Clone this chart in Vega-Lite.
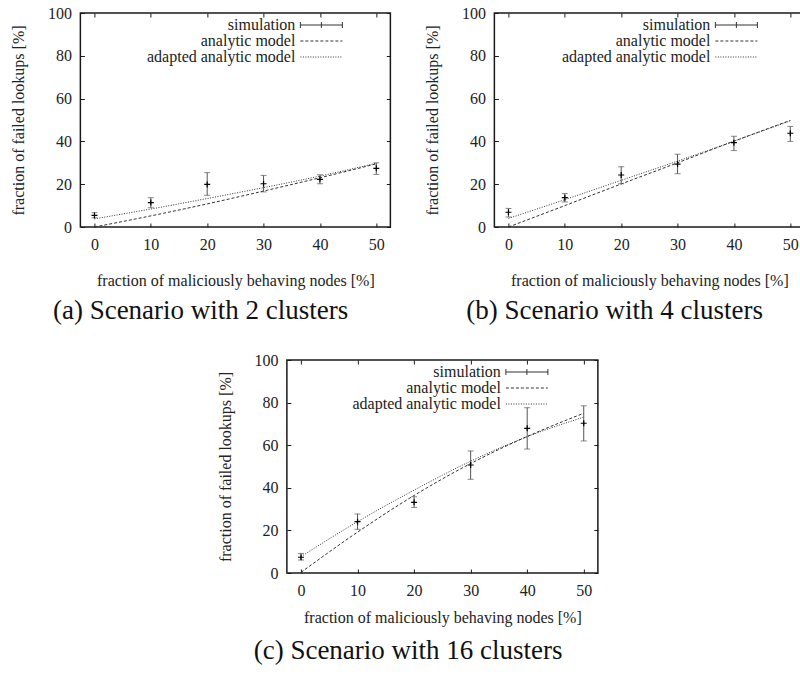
{
  "$schema": "https://vega.github.io/schema/vega-lite/v6.json",
  "padding": {"left": 9, "top": 4, "right": 5, "bottom": 5},
  "background": "white",
  "datasets": {
    "sim": [
      {"panel": "a", "x": 0, "y": 5.4, "lo": 4.3, "hi": 6.7},
      {"panel": "a", "x": 10, "y": 11.4, "lo": 9.0, "hi": 13.7},
      {"panel": "a", "x": 20, "y": 19.9, "lo": 14.8, "hi": 25.4},
      {"panel": "a", "x": 30, "y": 20.2, "lo": 16.4, "hi": 24.1},
      {"panel": "a", "x": 40, "y": 22.3, "lo": 20.2, "hi": 24.4},
      {"panel": "a", "x": 50, "y": 27.4, "lo": 24.6, "hi": 30.0},
      {"panel": "b", "x": 0, "y": 6.9, "lo": 4.7, "hi": 8.7},
      {"panel": "b", "x": 10, "y": 13.7, "lo": 11.7, "hi": 15.6},
      {"panel": "b", "x": 20, "y": 24.3, "lo": 20.2, "hi": 28.2},
      {"panel": "b", "x": 30, "y": 29.4, "lo": 24.9, "hi": 34.0},
      {"panel": "b", "x": 40, "y": 39.4, "lo": 35.7, "hi": 42.4},
      {"panel": "b", "x": 50, "y": 43.8, "lo": 40.0, "hi": 47.0},
      {"panel": "c", "x": 0, "y": 7.4, "lo": 6.1, "hi": 9.2},
      {"panel": "c", "x": 10, "y": 24.1, "lo": 20.5, "hi": 27.7},
      {"panel": "c", "x": 20, "y": 33.2, "lo": 30.8, "hi": 35.8},
      {"panel": "c", "x": 30, "y": 50.7, "lo": 44.0, "hi": 57.3},
      {"panel": "c", "x": 40, "y": 67.9, "lo": 58.2, "hi": 77.6},
      {"panel": "c", "x": 50, "y": 70.3, "lo": 62.0, "hi": 78.5}
    ],
    "model": [
      {"panel": "a", "series": "analytic model", "x": 0, "y": 0},
      {"panel": "a", "series": "analytic model", "x": 10, "y": 5.2},
      {"panel": "a", "series": "analytic model", "x": 20, "y": 10.8},
      {"panel": "a", "series": "analytic model", "x": 30, "y": 16.8},
      {"panel": "a", "series": "analytic model", "x": 40, "y": 23.0},
      {"panel": "a", "series": "analytic model", "x": 50, "y": 29.5},
      {"panel": "a", "series": "adapted analytic model", "x": 0, "y": 3.8},
      {"panel": "a", "series": "adapted analytic model", "x": 10, "y": 8.4},
      {"panel": "a", "series": "adapted analytic model", "x": 20, "y": 13.3},
      {"panel": "a", "series": "adapted analytic model", "x": 30, "y": 18.4},
      {"panel": "a", "series": "adapted analytic model", "x": 40, "y": 23.8},
      {"panel": "a", "series": "adapted analytic model", "x": 50, "y": 29.8},
      {"panel": "b", "series": "analytic model", "x": 0, "y": 0},
      {"panel": "b", "series": "analytic model", "x": 10, "y": 10.0},
      {"panel": "b", "series": "analytic model", "x": 20, "y": 20.1},
      {"panel": "b", "series": "analytic model", "x": 30, "y": 30.0},
      {"panel": "b", "series": "analytic model", "x": 40, "y": 40.1},
      {"panel": "b", "series": "analytic model", "x": 50, "y": 49.8},
      {"panel": "b", "series": "adapted analytic model", "x": 0, "y": 4.0},
      {"panel": "b", "series": "adapted analytic model", "x": 10, "y": 12.8},
      {"panel": "b", "series": "adapted analytic model", "x": 20, "y": 21.8},
      {"panel": "b", "series": "adapted analytic model", "x": 30, "y": 30.8},
      {"panel": "b", "series": "adapted analytic model", "x": 40, "y": 40.1},
      {"panel": "b", "series": "adapted analytic model", "x": 50, "y": 49.6},
      {"panel": "c", "series": "analytic model", "x": 0, "y": 0.3},
      {"panel": "c", "series": "analytic model", "x": 10, "y": 19.2},
      {"panel": "c", "series": "analytic model", "x": 20, "y": 36.4},
      {"panel": "c", "series": "analytic model", "x": 30, "y": 51.4},
      {"panel": "c", "series": "analytic model", "x": 40, "y": 64.1},
      {"panel": "c", "series": "analytic model", "x": 50, "y": 75.0},
      {"panel": "c", "series": "adapted analytic model", "x": 0, "y": 7.7},
      {"panel": "c", "series": "adapted analytic model", "x": 10, "y": 24.1},
      {"panel": "c", "series": "adapted analytic model", "x": 20, "y": 38.9},
      {"panel": "c", "series": "adapted analytic model", "x": 30, "y": 52.5},
      {"panel": "c", "series": "adapted analytic model", "x": 40, "y": 64.0},
      {"panel": "c", "series": "adapted analytic model", "x": 50, "y": 73.2}
    ]
  },
  "vconcat": [
    {
      "hconcat": [
        {
          "width": 310, "height": 214,
          "title": {"text": "(a) Scenario with 2 clusters", "offset": 10},
          "resolve": {"axis": {"x": "independent", "y": "independent"}},
          "layer": [
            {
              "data": {"name": "model"},
              "transform": [{"filter": "datum.panel === 'a'"}],
              "mark": {"type": "line", "strokeWidth": 1, "color": "#333", "interpolate": "monotone"},
              "encoding": {
                "x": {"field": "x", "type": "quantitative", "scale": {"domain": [-2.5, 52.5], "nice": false, "zero": false}, "axis": {"orient": "bottom", "values": [0, 10, 20, 30, 40, 50], "title": "fraction of maliciously behaving nodes [%]", "titlePadding": 20, "labelFlush": false}},
                "y": {"field": "y", "type": "quantitative", "scale": {"domain": [0, 100], "nice": false}, "axis": {"orient": "left", "values": [0, 20, 40, 60, 80, 100], "title": "fraction of failed lookups [%]", "titlePadding": 21, "labelFlush": false}},
                "strokeDash": {"field": "series", "type": "nominal", "scale": {"domain": ["analytic model", "adapted analytic model"], "range": [[3, 2], [1, 1.5]]}, "legend": null}
              }
            },
            {
              "data": {"name": "sim"},
              "transform": [{"filter": "datum.panel === 'a'"}],
              "mark": {"type": "rule", "color": "#555", "strokeWidth": 1},
              "encoding": {
                "x": {"field": "x", "type": "quantitative", "axis": {"orient": "top", "values": [0, 10, 20, 30, 40, 50], "labels": false, "title": null}},
                "y": {"field": "lo", "type": "quantitative", "axis": {"orient": "right", "values": [0, 20, 40, 60, 80, 100], "labels": false, "title": null}},
                "y2": {"field": "hi"}
              }
            },
            {
              "data": {"name": "sim"},
              "transform": [{"filter": "datum.panel === 'a'"}, {"fold": ["lo", "hi"], "as": ["end", "v"]}],
              "mark": {"type": "tick", "orient": "horizontal", "color": "#555", "thickness": 1, "size": 6},
              "encoding": {
                "x": {"field": "x", "type": "quantitative", "axis": null},
                "y": {"field": "v", "type": "quantitative", "axis": null}
              }
            },
            {
              "data": {"name": "sim"},
              "transform": [{"filter": "datum.panel === 'a'"}],
              "mark": {"type": "point", "shape": "M-1,0H1M0,-1V1", "size": 36, "filled": false, "color": "#000", "strokeWidth": 1.2, "opacity": 1},
              "encoding": {
                "x": {"field": "x", "type": "quantitative", "axis": null},
                "y": {"field": "y", "type": "quantitative", "axis": null}
              }
            },
            {
              "data": {"name": "model"},
              "transform": [{"filter": "datum.panel === 'a'"}],
              "mark": {"type": "point", "opacity": 0, "filled": false},
              "encoding": {
                "x": {"field": "x", "type": "quantitative", "axis": null},
                "y": {"field": "y", "type": "quantitative", "axis": null},
                "shape": {"field": "series", "type": "nominal",
                  "scale": {"domain": ["simulation", "analytic model", "adapted analytic model"], "range": ["M-4.2,0H4.2M-4.2,-0.6V0.6M4.2,-0.6V0.6M0,-0.6V0.6", "M-4.2,0H-3.6M-3.2,0H-2.6M-2.2,0H-1.6M-1.2,0H-0.6M-0.2,0H0.4M0.8,0H1.4M1.8,0H2.4M2.8,0H3.4M3.8,0H4.2", "M-4.2,0H-4M-3.7,0H-3.5M-3.2,0H-3M-2.7,0H-2.5M-2.2,0H-2M-1.7,0H-1.5M-1.2,0H-1M-0.7,0H-0.5M-0.2,0H0M0.3,0H0.5M0.8,0H1M1.3,0H1.5M1.8,0H2M2.3,0H2.5M2.8,0H3M3.3,0H3.5M3.8,0H4"]},
                  "legend": {"orient": "none", "legendX": 233, "legendY": 4}
                }
              }
            }
          ]
        },
        {
          "width": 310, "height": 214,
          "title": {"text": "(b) Scenario with 4 clusters", "offset": 10},
          "resolve": {"axis": {"x": "independent", "y": "independent"}},
          "layer": [
            {
              "data": {"name": "model"},
              "transform": [{"filter": "datum.panel === 'b'"}],
              "mark": {"type": "line", "strokeWidth": 1, "color": "#333", "interpolate": "monotone"},
              "encoding": {
                "x": {"field": "x", "type": "quantitative", "scale": {"domain": [-2.5, 52.5], "nice": false, "zero": false}, "axis": {"orient": "bottom", "values": [0, 10, 20, 30, 40, 50], "title": "fraction of maliciously behaving nodes [%]", "titlePadding": 20, "labelFlush": false}},
                "y": {"field": "y", "type": "quantitative", "scale": {"domain": [0, 100], "nice": false}, "axis": {"orient": "left", "values": [0, 20, 40, 60, 80, 100], "title": "fraction of failed lookups [%]", "titlePadding": 21, "labelFlush": false}},
                "strokeDash": {"field": "series", "type": "nominal", "scale": {"domain": ["analytic model", "adapted analytic model"], "range": [[3, 2], [1, 1.5]]}, "legend": null}
              }
            },
            {
              "data": {"name": "sim"},
              "transform": [{"filter": "datum.panel === 'b'"}],
              "mark": {"type": "rule", "color": "#555", "strokeWidth": 1},
              "encoding": {
                "x": {"field": "x", "type": "quantitative", "axis": {"orient": "top", "values": [0, 10, 20, 30, 40, 50], "labels": false, "title": null}},
                "y": {"field": "lo", "type": "quantitative", "axis": {"orient": "right", "values": [0, 20, 40, 60, 80, 100], "labels": false, "title": null}},
                "y2": {"field": "hi"}
              }
            },
            {
              "data": {"name": "sim"},
              "transform": [{"filter": "datum.panel === 'b'"}, {"fold": ["lo", "hi"], "as": ["end", "v"]}],
              "mark": {"type": "tick", "orient": "horizontal", "color": "#555", "thickness": 1, "size": 6},
              "encoding": {
                "x": {"field": "x", "type": "quantitative", "axis": null},
                "y": {"field": "v", "type": "quantitative", "axis": null}
              }
            },
            {
              "data": {"name": "sim"},
              "transform": [{"filter": "datum.panel === 'b'"}],
              "mark": {"type": "point", "shape": "M-1,0H1M0,-1V1", "size": 36, "filled": false, "color": "#000", "strokeWidth": 1.2, "opacity": 1},
              "encoding": {
                "x": {"field": "x", "type": "quantitative", "axis": null},
                "y": {"field": "y", "type": "quantitative", "axis": null}
              }
            },
            {
              "data": {"name": "model"},
              "transform": [{"filter": "datum.panel === 'b'"}],
              "mark": {"type": "point", "opacity": 0, "filled": false},
              "encoding": {
                "x": {"field": "x", "type": "quantitative", "axis": null},
                "y": {"field": "y", "type": "quantitative", "axis": null},
                "shape": {"field": "series", "type": "nominal",
                  "scale": {"domain": ["simulation", "analytic model", "adapted analytic model"], "range": ["M-4.2,0H4.2M-4.2,-0.6V0.6M4.2,-0.6V0.6M0,-0.6V0.6", "M-4.2,0H-3.6M-3.2,0H-2.6M-2.2,0H-1.6M-1.2,0H-0.6M-0.2,0H0.4M0.8,0H1.4M1.8,0H2.4M2.8,0H3.4M3.8,0H4.2", "M-4.2,0H-4M-3.7,0H-3.5M-3.2,0H-3M-2.7,0H-2.5M-2.2,0H-2M-1.7,0H-1.5M-1.2,0H-1M-0.7,0H-0.5M-0.2,0H0M0.3,0H0.5M0.8,0H1M1.3,0H1.5M1.8,0H2M2.3,0H2.5M2.8,0H3M3.3,0H3.5M3.8,0H4"]},
                  "legend": {"orient": "none", "legendX": 234, "legendY": 4}
                }
              }
            }
          ]
        }
      ],
      "spacing": 31,
      "resolve": {"scale": {"shape": "independent", "strokeDash": "independent", "x": "independent", "y": "independent"}, "legend": {"shape": "independent"}}
    },
    {
      "width": 311, "height": 213,
      "title": {"text": "(c) Scenario with 16 clusters", "offset": 13},
      "resolve": {"axis": {"x": "independent", "y": "independent"}},
      "layer": [
        {
          "data": {"name": "model"},
          "transform": [{"filter": "datum.panel === 'c'"}],
          "mark": {"type": "line", "strokeWidth": 1, "color": "#333", "interpolate": "monotone"},
          "encoding": {
            "x": {"field": "x", "type": "quantitative", "scale": {"domain": [-2.5, 52.5], "nice": false, "zero": false}, "axis": {"orient": "bottom", "values": [0, 10, 20, 30, 40, 50], "title": "fraction of maliciously behaving nodes [%]", "titlePadding": 11, "labelFlush": false}},
            "y": {"field": "y", "type": "quantitative", "scale": {"domain": [0, 100], "nice": false}, "axis": {"orient": "left", "values": [0, 20, 40, 60, 80, 100], "title": "fraction of failed lookups [%]", "titlePadding": 20, "labelFlush": false}},
            "strokeDash": {"field": "series", "type": "nominal", "scale": {"domain": ["analytic model", "adapted analytic model"], "range": [[3, 2], [1, 1.5]]}, "legend": null}
          }
        },
        {
          "data": {"name": "sim"},
          "transform": [{"filter": "datum.panel === 'c'"}],
          "mark": {"type": "rule", "color": "#555", "strokeWidth": 1},
          "encoding": {
            "x": {"field": "x", "type": "quantitative", "axis": {"orient": "top", "values": [0, 10, 20, 30, 40, 50], "labels": false, "title": null}},
            "y": {"field": "lo", "type": "quantitative", "axis": {"orient": "right", "values": [0, 20, 40, 60, 80, 100], "labels": false, "title": null}},
            "y2": {"field": "hi"}
          }
        },
        {
          "data": {"name": "sim"},
          "transform": [{"filter": "datum.panel === 'c'"}, {"fold": ["lo", "hi"], "as": ["end", "v"]}],
          "mark": {"type": "tick", "orient": "horizontal", "color": "#555", "thickness": 1, "size": 6},
          "encoding": {
            "x": {"field": "x", "type": "quantitative", "axis": null},
            "y": {"field": "v", "type": "quantitative", "axis": null}
          }
        },
        {
          "data": {"name": "sim"},
          "transform": [{"filter": "datum.panel === 'c'"}],
          "mark": {"type": "point", "shape": "M-1,0H1M0,-1V1", "size": 36, "filled": false, "color": "#000", "strokeWidth": 1.2, "opacity": 1},
          "encoding": {
            "x": {"field": "x", "type": "quantitative", "axis": null},
            "y": {"field": "y", "type": "quantitative", "axis": null}
          }
        },
        {
          "data": {"name": "model"},
          "transform": [{"filter": "datum.panel === 'c'"}],
          "mark": {"type": "point", "opacity": 0, "filled": false},
          "encoding": {
            "x": {"field": "x", "type": "quantitative", "axis": null},
            "y": {"field": "y", "type": "quantitative", "axis": null},
            "shape": {"field": "series", "type": "nominal",
              "scale": {"domain": ["simulation", "analytic model", "adapted analytic model"], "range": ["M-4.2,0H4.2M-4.2,-0.6V0.6M4.2,-0.6V0.6M0,-0.6V0.6", "M-4.2,0H-3.6M-3.2,0H-2.6M-2.2,0H-1.6M-1.2,0H-0.6M-0.2,0H0.4M0.8,0H1.4M1.8,0H2.4M2.8,0H3.4M3.8,0H4.2", "M-4.2,0H-4M-3.7,0H-3.5M-3.2,0H-3M-2.7,0H-2.5M-2.2,0H-2M-1.7,0H-1.5M-1.2,0H-1M-0.7,0H-0.5M-0.2,0H0M0.3,0H0.5M0.8,0H1M1.3,0H1.5M1.8,0H2M2.3,0H2.5M2.8,0H3M3.3,0H3.5M3.8,0H4"]},
              "legend": {"orient": "none", "legendX": 232, "legendY": 4}
            }
          }
        }
      ]
    }
  ],
  "spacing": 26,
  "center": true,
  "resolve": {"scale": {"shape": "independent", "strokeDash": "independent", "x": "independent", "y": "independent"}, "legend": {"shape": "independent"}},
  "config": {
    "font": "Liberation Serif",
    "view": {"stroke": "#1a1a1a", "strokeWidth": 1.5},
    "axis": {"domain": false, "grid": false, "ticks": true, "tickSize": -4, "tickColor": "#1a1a1a", "tickWidth": 1, "labelFont": "Liberation Serif", "labelFontSize": 16, "labelColor": "#222", "labelPadding": 13, "titleFont": "Liberation Serif", "titleFontSize": 16, "titleFontWeight": "normal", "titleColor": "#222"},
    "legend": {"title": null, "labelFont": "Liberation Serif", "labelFontSize": 16, "labelColor": "#222", "labelAlign": "right", "labelOffset": -34, "rowPadding": -2.5, "padding": 0, "symbolSize": 100, "symbolStrokeWidth": 1, "symbolStrokeColor": "#333", "symbolFillColor": "transparent", "symbolOpacity": 1},
    "title": {"font": "Liberation Serif", "fontSize": 27, "fontWeight": "normal", "color": "#111", "orient": "bottom", "anchor": "middle", "frame": "bounds"}
  }
}
